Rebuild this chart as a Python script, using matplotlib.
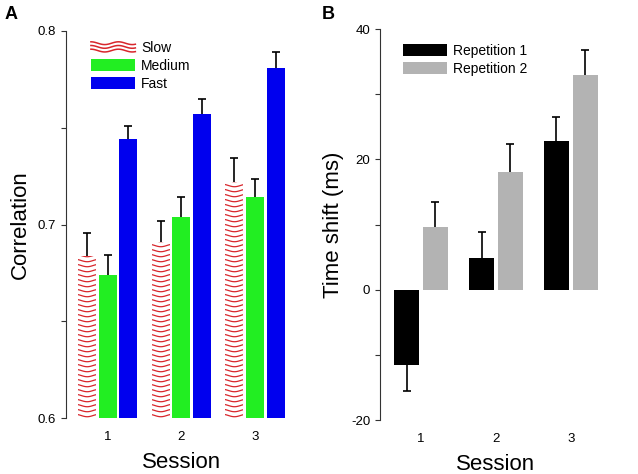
import numpy as np
import matplotlib.pyplot as plt
from matplotlib.legend_handler import HandlerBase
from matplotlib.lines import Line2D

plt.rcParams['font.family'] = ['Liberation Sans', 'DejaVu Sans']
plt.rcParams['axes.unicode_minus'] = False

sessions = [1, 2, 3]
# panel A: correlation per speed
slow = [0.6835, 0.691, 0.722]
slow_err = [0.012, 0.011, 0.0125]
medium = [0.674, 0.704, 0.714]
medium_err = [0.010, 0.010, 0.0097]
fast = [0.744, 0.757, 0.781]
fast_err = [0.007, 0.008, 0.008]
speed_labels = ['Slow', 'Medium', 'Fast']

# panel B: time shift per repetition
rep1 = [-11.6, 4.9, 22.8]
rep1_err = [3.9, 3.9, 3.7]
rep2 = [9.6, 18.1, 33.0]
rep2_err = [3.9, 4.2, 3.8]
rep_labels = ['Repetition 1', 'Repetition 2']

RED = '#d8262c'
GREEN = '#22ee22'
BLUE = '#0000ee'
GRAY = '#b3b3b3'


class WaveHandler(HandlerBase):
    # three wavy red lines in the legend box
    def create_artists(self, legend, orig_handle, xdescent, ydescent,
                       width, height, fontsize, trans):
        xs = np.linspace(-xdescent, -xdescent + width, 60)
        arts = []
        for k in range(3):
            yb = -ydescent + height * (0.18 + 0.32 * k)
            ys = yb + height * 0.12 * np.cos(2 * np.pi * (xs + xdescent) / (width * 0.62))
            ln = Line2D(xs, ys, color=RED, lw=1.1)
            ln.set_transform(trans)
            arts.append(ln)
        return arts


def err_bars(ax, x, v, e):
    # symmetric bars drawn under the bars, so only the outer half shows
    ax.errorbar(x, v, yerr=e, fmt='none', ecolor='k',
                elinewidth=1.2, capsize=3, capthick=1.2, zorder=1)


def style_axis(ax):
    for s in ['top', 'right', 'bottom']:
        ax.spines[s].set_visible(False)
    ax.spines['left'].set_color('#333333')
    ax.spines['left'].set_linewidth(0.8)
    ax.tick_params(axis='y', which='both', direction='out', length=3.5,
                   width=0.8, color='#333333', labelsize=9.5)
    ax.tick_params(axis='x', length=0, labelsize=9.5, pad=9)
    ax.set_xticks(sessions)
    ax.set_xlabel('Session', fontsize=16, labelpad=7)


fig = plt.figure(figsize=(6.38, 4.74), dpi=100)

# ---- panel A
axA = fig.add_axes([0.1034, 0.1181, 0.362, 0.8165])
x = np.array(sessions, dtype=float)
off = 0.28
w = 0.245
base = 0.6
slow_bars = axA.bar(x - off, np.array(slow) - base, w, bottom=base,
                    color='white', edgecolor='none', zorder=2)
med_bars = axA.bar(x, np.array(medium) - base, w, bottom=base,
                   color=GREEN, edgecolor='none', zorder=2)
fast_bars = axA.bar(x + off, np.array(fast) - base, w, bottom=base,
                    color=BLUE, edgecolor='none', zorder=2)

# wavy fill of the slow bars, clipped to each bar
xpx = 74.0          # pixels per session unit
ypx = 387.0 / 0.2   # pixels per correlation unit
lam = 24.0 / xpx
amp = 1.2 / ypx
step = 5.0 / ypx
for r in slow_bars:
    x0, wd = r.get_x(), r.get_width()
    y0, h = r.get_y(), r.get_height()
    xs = np.linspace(x0, x0 + wd, 40)
    for lev in np.arange(y0 + step * 0.5, y0 + h + step, step):
        ys = lev - amp * np.cos(2 * np.pi * (xs - (x0 + wd / 2)) / lam)
        ln, = axA.plot(xs, ys, color=RED, lw=0.9, zorder=3)
        ln.set_clip_path(r)

err_bars(axA, x - off, slow, slow_err)
err_bars(axA, x, medium, medium_err)
err_bars(axA, x + off, fast, fast_err)

axA.set_xlim(0.432, 3.568)
axA.set_ylim(0.6, 0.8)
axA.set_yticks([0.6, 0.7, 0.8])
axA.set_yticklabels(['0.6', '0.7', '0.8'])
axA.set_yticks([0.65, 0.75], minor=True)
style_axis(axA)
axA.set_ylabel('Correlation', fontsize=16, labelpad=5)
axA.legend([slow_bars, med_bars, fast_bars], speed_labels,
           handler_map={slow_bars: WaveHandler()},
           loc='upper left', bbox_to_anchor=(0.108, 0.975), frameon=False,
           fontsize=10, borderpad=0, borderaxespad=0, handlelength=3.2,
           handleheight=0.9, handletextpad=0.4, labelspacing=0.3)

# ---- panel B
axB = fig.add_axes([0.5956, 0.1139, 0.3636, 0.8249])
offB = 0.193
wB = 0.333
b1 = axB.bar(x - offB, rep1, wB, color='black', edgecolor='none', zorder=2)
b2 = axB.bar(x + offB, rep2, wB, color=GRAY, edgecolor='none', zorder=2)
err_bars(axB, x - offB, rep1, rep1_err)
err_bars(axB, x + offB, rep2, rep2_err)
axB.set_xlim(0.453, 3.547)
axB.set_ylim(-20, 40)
axB.set_yticks([-20, 0, 20, 40])
axB.set_yticks([-10, 10, 30], minor=True)
style_axis(axB)
axB.set_ylabel('Time shift (ms)', fontsize=16, labelpad=5)
axB.legend([b1, b2], rep_labels, loc='upper left',
           bbox_to_anchor=(0.099, 0.962), frameon=False, fontsize=10,
           borderpad=0, borderaxespad=0, handlelength=3.2, handleheight=0.9,
           handletextpad=0.4, labelspacing=0.3)

fig.text(5 / 638, 1 - 19 / 474, 'A', fontsize=13, fontweight='bold')
fig.text(322 / 638, 1 - 19 / 474, 'B', fontsize=13, fontweight='bold')

fig.savefig('out.png', dpi=100, facecolor='w')
